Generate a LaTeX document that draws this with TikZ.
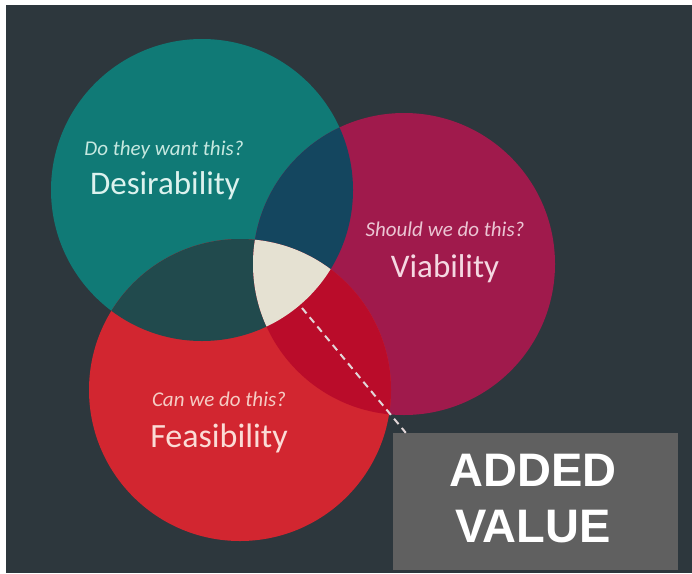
\documentclass[tikz,border=0pt]{standalone}
\usepackage{fontspec}
\setmainfont{Carlito}
\newfontfamily\boxfont{Liberation Sans}
\definecolor{bg}{HTML}{2D373D}
\definecolor{teal1}{HTML}{107A76}
\definecolor{mag1}{HTML}{A01A4C}
\definecolor{red1}{HTML}{D22630}
\definecolor{tm}{HTML}{14465F}
\definecolor{tr}{HTML}{214A4D}
\definecolor{mr}{HTML}{BA0C2A}
\definecolor{cream}{HTML}{E5E1D2}
\definecolor{boxgray}{HTML}{606060}
\definecolor{dtxt}{HTML}{DCF2EE}
\definecolor{dq}{HTML}{C6E8E0}
\definecolor{vtxt}{HTML}{F5D8E2}
\definecolor{vq}{HTML}{EBC5D3}
\definecolor{ftxt}{HTML}{FBDCD6}
\definecolor{fq}{HTML}{F5CCC4}
\definecolor{dashc}{HTML}{E2D6D8}
\tikzset{
  bigword/.style={inner sep=0pt, anchor=base, font=\fontsize{33}{36}\selectfont},
  question/.style={inner sep=0pt, anchor=base, font=\fontsize{21}{24}\selectfont\itshape},
  valuebox/.style={rectangle, fill=boxgray, inner sep=0pt, minimum width=285pt, minimum height=137pt},
  avtext/.style={inner sep=0pt, anchor=base, text=white, font=\boxfont\bfseries\fontsize{47}{52}\selectfont},
  leader/.style={draw=dashc, line width=2pt, dash pattern=on 7pt off 5pt}
}
\begin{document}
\begin{tikzpicture}[x=1pt, y=-1pt]
\useasboundingbox (0,0) rectangle (692,573);
\fill[white] (0,0) rectangle (692,573);
\fill[bg] (6,5) rectangle (692,573);
\coordinate (cD) at (202,190);
\coordinate (cV) at (404,264);
\coordinate (cF) at (240,390);
\def\R{151pt}
\fill[teal1] (cD) circle[radius=\R];
\fill[mag1] (cV) circle[radius=\R];
\fill[red1] (cF) circle[radius=\R];
\begin{scope}
  \clip (cD) circle[radius=\R];
  \fill[tm] (cV) circle[radius=\R];
  \fill[tr] (cF) circle[radius=\R];
\end{scope}
\begin{scope}
  \clip (cV) circle[radius=\R];
  \fill[mr] (cF) circle[radius=\R];
\end{scope}
\begin{scope}
  \clip (cD) circle[radius=\R];
  \clip (cV) circle[radius=\R];
  \fill[cream] (cF) circle[radius=\R];
\end{scope}
% labels
\node[question, text=dq] (qD) at (164,155) {Do they want this?};
\node[bigword, text=dtxt] (lD) at (165,194) {Desirability};
\node[question, text=vq] (qV) at (445,236) {Should we do this?};
\node[bigword, text=vtxt] (lV) at (445,277) {Viability};
\node[question, text=fq] (qF) at (219,406) {Can we do this?};
\node[bigword, text=ftxt, font=\fontsize{34}{36}\selectfont] (lF) at (219,447) {Feasibility};
% added value box
\node[valuebox] (box) at (535.5,501.5) {};
\node[avtext] (t1) at (533,486) {ADDED};
\node[avtext] (t2) at (533,542) {VALUE};
\coordinate (dstart) at (302,308);
\draw[leader] (dstart) -- ([xshift=13pt]box.north west);
\end{tikzpicture}
\end{document}
